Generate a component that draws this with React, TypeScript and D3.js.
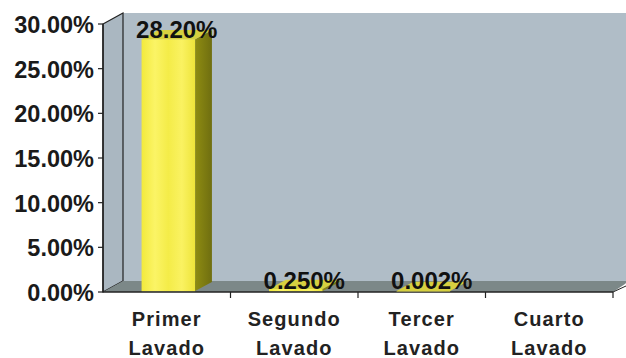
import React from "react";
import * as d3 from "d3";

const categories = ["Primer Lavado", "Segundo Lavado", "Tercer Lavado", "Cuarto Lavado"];
const values = [28.2, 0.25, 0.002, 0];
const valueLabels = ["28.20%", "0.250%", "0.002%", ""];
const yTicks = [0, 5, 10, 15, 20, 25, 30];

const W = 626;
const H = 358;
const left = 103;
const right = 613;
const top = 24;
const bottom = 292;
const DX = 20;
const DY = -11;
const font = "Arial, 'Liberation Sans', sans-serif";

const App = () => {
  const x = d3.scaleBand().domain(categories).range([left, right]).paddingInner(0.58).paddingOuter(0.29);
  const y = d3.scaleLinear().domain([0, 30]).range([bottom, top]);
  const fmt = d3.format(".2f");

  // bar sits a little into the depth
  const f0 = 0.08;
  const f1 = 0.92;

  return (
    <svg width={W} height={H} style={{ position: "fixed", left: 0, top: 0 }}>
      <defs>
        <linearGradient id="front" x1="0" x2="1" y1="0" y2="0">
          <stop offset="0%" stopColor="#f2ea3c" />
          <stop offset="25%" stopColor="#fbf466" />
          <stop offset="50%" stopColor="#f4ec48" />
          <stop offset="75%" stopColor="#faf262" />
          <stop offset="100%" stopColor="#eee43a" />
        </linearGradient>
        <linearGradient id="side" x1="0" x2="1" y1="0" y2="0">
          <stop offset="0%" stopColor="#8e8c12" />
          <stop offset="100%" stopColor="#6f6e10" />
        </linearGradient>
      </defs>
      <rect width={W} height={H} fill="#ffffff" />
      {/* back wall */}
      <rect x={left + DX} y={top + DY} width={W - left - DX + 2} height={bottom - top} fill="#b0bdc7" />
      {/* side wall */}
      <polygon
        points={`${left},${y(30)} ${left + DX},${y(30) + DY} ${left + DX},${bottom + DY} ${left},${bottom}`}
        fill="#aab7c1"
        stroke="#222"
        strokeWidth={1.2}
      />
      {/* floor */}
      <polygon
        points={`${left},${bottom} ${left + DX},${bottom + DY} ${W + 2},${bottom + DY} ${right + 12},${bottom + DY + 3} ${right},${bottom}`}
        fill="#7c8888"
      />
      <line x1={left} x2={right} y1={bottom} y2={bottom} stroke="#222" strokeWidth={1.5} />
      <line x1={right} x2={right + 13} y1={bottom} y2={bottom - 6} stroke="#222" strokeWidth={1} />

      {/* bars */}
      {categories.map((c, i) => {
        const bx = (x(c) as number) + DX * f0;
        const bw = x.bandwidth();
        const base = bottom + DY * f0;
        const ty = y(values[i]) + DY * f0;
        const ddx = DX * (f1 - f0);
        const ddy = DY * (f1 - f0);
        if (values[i] <= 0) return null;
        return (
          <g key={c}>
            <rect x={bx} y={ty} width={bw} height={Math.max(base - ty, 0.5)} fill="url(#front)" />
            <polygon
              points={`${bx + bw},${ty} ${bx + bw + ddx},${ty + ddy} ${bx + bw + ddx},${base + ddy} ${bx + bw},${base}`}
              fill="url(#side)"
            />
            <polygon
              points={`${bx},${ty} ${bx + ddx},${ty + ddy} ${bx + bw + ddx},${ty + ddy} ${bx + bw},${ty}`}
              fill="#d6d040"
            />
          </g>
        );
      })}

      {/* value labels */}
      {categories.map((c, i) => (
        <text
          key={c}
          x={(x(c) as number) + x.bandwidth() / 2 + DX / 2}
          y={i === 0 ? 38 : 289}
          textAnchor="middle"
          fontFamily={font}
          fontWeight="bold"
          fontSize={24}
          fill="#111"
        >
          {valueLabels[i]}
        </text>
      ))}

      {/* y axis */}
      <line x1={left} x2={left} y1={y(30)} y2={bottom} stroke="#222" strokeWidth={1.5} />
      {yTicks.map((t) => (
        <g key={t}>
          <line x1={left - 5} x2={left} y1={y(t)} y2={y(t)} stroke="#222" strokeWidth={1.2} />
          <text
            x={left - 9}
            y={y(t) + 9}
            textAnchor="end"
            fontFamily={font}
            fontWeight="bold"
            fontSize={23.5}
            fill="#1a1a1a"
          >
            {fmt(t)}%
          </text>
        </g>
      ))}

      {/* x axis ticks + labels */}
      {categories.map((c) => (
        <line
          key={c}
          x1={(x(c) as number) + x.bandwidth() / 2 + x.step() / 2}
          x2={(x(c) as number) + x.bandwidth() / 2 + x.step() / 2}
          y1={bottom}
          y2={bottom + 6}
          stroke="#222"
          strokeWidth={1.2}
        />
      ))}
      {categories.map((c) =>
        c.split(" ").map((w, j) => (
          <text
            key={c + j}
            x={(x(c) as number) + x.bandwidth() / 2}
            y={326 + j * 29}
            textAnchor="middle"
            fontFamily={font}
            fontWeight="bold"
            fontSize={20}
            letterSpacing={1.1}
            fill="#222"
          >
            {w}
          </text>
        ))
      )}
    </svg>
  );
};

export default App;
